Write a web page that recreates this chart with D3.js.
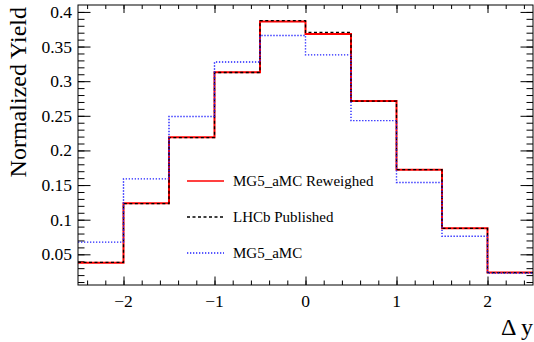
<!DOCTYPE html>
<html>
<head>
<meta charset="utf-8">
<script src="https://cdn.jsdelivr.net/npm/d3@7"></script>
<style>
  body { margin: 0; background: #fff; font-family: 'Times New Roman', 'Liberation Serif', serif; }
  #container, #container svg { font-family: inherit; }
</style>
</head>
<body>
<div id="container"></div>
<script>
// bin edges in delta y
const binEdges = [-2.5, -2, -1.5, -1, -0.5, 0, 0.5, 1, 1.5, 2, 2.5];

// normalized yields, one per bin
const reweighed = [0.038, 0.1237, 0.219, 0.313, 0.386, 0.368, 0.2714, 0.172, 0.0876, 0.0237];
const lhcb      = [0.0385, 0.1232, 0.2185, 0.3125, 0.3875, 0.3704, 0.2712, 0.1722, 0.0874, 0.0236];
const mg5       = [0.0676, 0.159, 0.249, 0.3276, 0.366, 0.338, 0.243, 0.1537, 0.076, 0.0229];

const seriesNames = ['MG5_aMC Reweighed', 'LHCb Published', 'MG5_aMC'];

const xTicks = [-2, -1, 0, 1, 2];
const xTickLabels = ['\u22122', '\u22121', '0', '1', '2'];
const yTicks = [0.05, 0.1, 0.15, 0.2, 0.25, 0.3, 0.35, 0.4];
const yTickLabels = ['0.05', '0.1', '0.15', '0.2', '0.25', '0.3', '0.35', '0.4'];

const frameL = 78, frameR = 533, frameT = 5, frameB = 285;

const svg = d3.select('#container').append('svg')
  .attr('width', 534)
  .attr('height', 342);

const x = d3.scaleLinear().domain([-2.5, 2.5]).range([frameL, frameR]);
const y = d3.scaleLinear().domain([0.0057, 0.41]).range([frameB, frameT]);

const xMinor = d3.range(-2.4, 2.5, 0.2).map(v => +v.toFixed(1));
const yMinor = d3.range(0.01, 0.41, 0.01).map(v => +v.toFixed(2));

// plain text, inherits the serif font from the page
const label = (px, py, str, size, anchor) => svg.append('text')
  .attr('x', px).attr('y', py)
  .attr('font-size', size)
  .attr('text-anchor', anchor)
  .text(str);

// tick marks only, all pointing inward
const ticks = (axis, tx, ty) => svg.append('g')
  .attr('transform', `translate(${tx},${ty})`)
  .call(axis.tickFormat(''))
  .call(g => g.select('.domain').remove());

ticks(d3.axisBottom(x).tickValues(xMinor).tickSize(-4.5), 0, frameB);
ticks(d3.axisBottom(x).tickValues(xTicks).tickSize(-8.5), 0, frameB);
ticks(d3.axisTop(x).tickValues(xMinor).tickSize(-4), 0, frameT);
ticks(d3.axisTop(x).tickValues(xTicks).tickSize(-8), 0, frameT);
ticks(d3.axisLeft(y).tickValues(yMinor).tickSize(-6.5), frameL, 0);
ticks(d3.axisLeft(y).tickValues(yTicks).tickSize(-12.5), frameL, 0);
ticks(d3.axisRight(y).tickValues(yMinor).tickSize(-6.5), frameR, 0);
ticks(d3.axisRight(y).tickValues(yTicks).tickSize(-12.5), frameR, 0);
svg.selectAll('.tick line').attr('stroke', '#000').attr('stroke-width', 1);

// tick labels
xTicks.forEach((d, i) => label(x(d), frameB + 22, xTickLabels[i], 17.5, 'middle'));
yTicks.forEach((d, i) => label(frameL - 6, y(d) + 6, yTickLabels[i], 17.5, 'end'));

// histograms as step lines
const stepPath = (vals) => {
  const pts = [];
  vals.forEach((v, i) => {
    pts.push([binEdges[i], v]);
    pts.push([binEdges[i + 1], v]);
  });
  return d3.line().x(d => x(d[0])).y(d => y(d[1]))(pts);
};

const series = [
  { name: seriesNames[0], vals: reweighed, color: '#ff0000', width: 2, dash: null },
  { name: seriesNames[1], vals: lhcb, color: '#000000', width: 1.3, dash: '3,2.5' },
  { name: seriesNames[2], vals: mg5, color: '#2222ff', width: 1.4, dash: '1.3,1.7' }
];

series.forEach(s => {
  svg.append('path')
    .attr('d', stepPath(s.vals))
    .attr('fill', 'none')
    .attr('stroke', s.color)
    .attr('stroke-width', s.width)
    .attr('stroke-dasharray', s.dash);
});

// frame
svg.append('rect')
  .attr('x', frameL)
  .attr('y', frameT)
  .attr('width', frameR - frameL)
  .attr('height', frameB - frameT)
  .attr('fill', 'none')
  .attr('stroke', '#000')
  .attr('stroke-width', 1);

// legend
series.forEach((s, i) => {
  const ly = 181 + i * 36;
  svg.append('line')
    .attr('x1', 187).attr('x2', 224)
    .attr('y1', ly).attr('y2', ly)
    .attr('stroke', s.color)
    .attr('stroke-width', i === 0 ? 1.5 : 1.3)
    .attr('stroke-dasharray', s.dash);
  label(233, ly + 5, s.name, 15, 'start');
});

// axis titles
label(0, 0, 'Normalized Yield', 24, 'end')
  .attr('x', null).attr('y', null)
  .attr('transform', 'translate(26,7) rotate(-90)');
label(533, 335, '\u0394 y', 24, 'end');
</script>
</body>
</html>
